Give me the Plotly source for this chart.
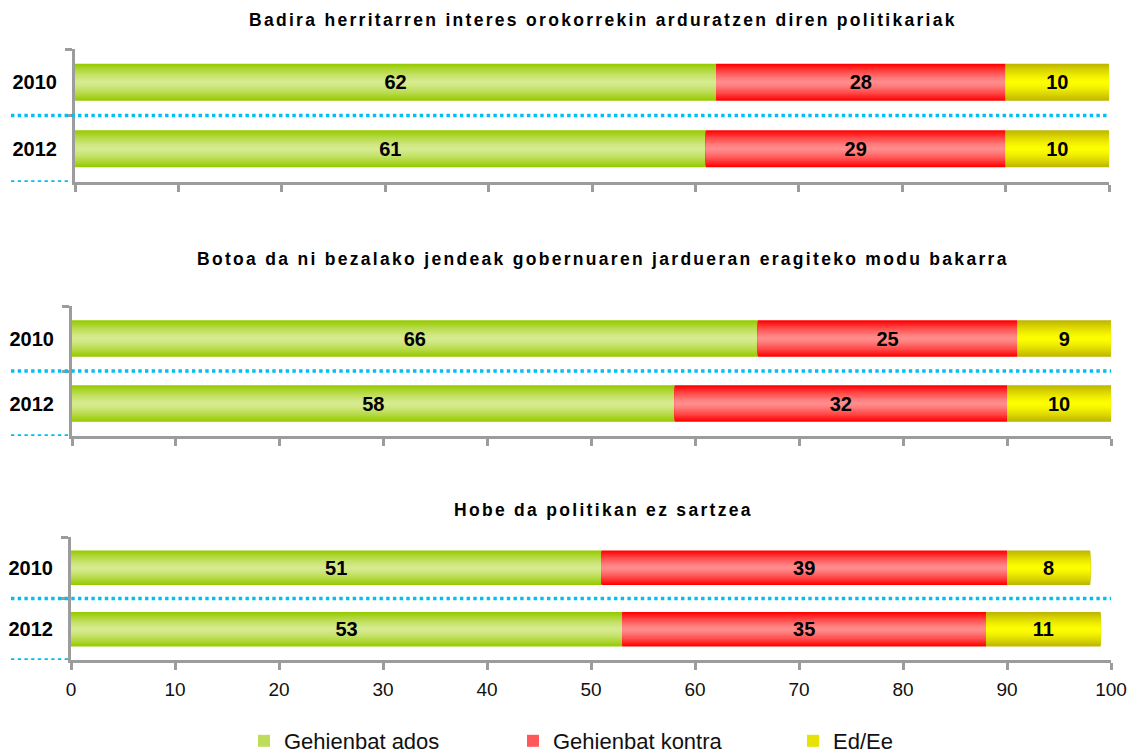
import plotly.graph_objects as go

# ---- data -------------------------------------------------------------
years = ["2010", "2012"]
titles = [
    "Badira herritarren interes orokorrekin arduratzen diren politikariak",
    "Botoa da ni bezalako jendeak gobernuaren jardueran eragiteko modu bakarra",
    "Hobe da politikan ez sartzea",
]
series_names = ["Gehienbat ados", "Gehienbat kontra", "Ed/Ee"]
ados = [[62, 61], [66, 58], [51, 53]]
kontra = [[28, 29], [25, 32], [39, 35]]
ed_ee = [[10, 10], [9, 10], [8, 11]]
x_ticks = list(range(0, 101, 10))

# ---- style ------------------------------------------------------------
W, H = 1137, 754
FONT = "Liberation Sans, Arial, sans-serif"
AXIS_GREY = "#9c9c9c"
DOT_BLUE = "#00bff5"

# edge colour / centre colour of each series' cylinder-like shading
shades = [
    ((150, 202, 0), (215, 235, 146)),
    ((255, 0, 0), (255, 142, 142)),
    ((190, 182, 0), (255, 255, 0)),
]
legend_ids = ["legend", "legend2", "legend3"]
legend_x = [244, 513, 793]

# panel frames in pixels: left, right, top, bottom
panels = [
    (75, 1109, 49, 182),
    (72, 1111, 306, 436),
    (71, 1111, 537, 660),
]
title_y = [20, 259, 510]
BAR_W = 0.56
N_LAYERS = 16


def mix(c0, c1, t):
    return "rgb(%d,%d,%d)" % tuple(round(a + (b - a) * t) for a, b in zip(c0, c1))


fig = go.Figure()

for p, (l, r, t, b) in enumerate(panels):
    sfx = "" if p == 0 else str(p + 1)
    xa, ya = "x" + sfx, "y" + sfx
    values = [ados[p], kontra[p], ed_ee[p]]
    starts = [[0, 0], ados[p], [a + k for a, k in zip(ados[p], kontra[p])]]

    for s in range(3):
        edge, centre = shades[s]
        for k in range(N_LAYERS):
            f = 1 - k / N_LAYERS
            col = mix(edge, centre, 1 - f ** 1.4)
            show = p == 0 and k == N_LAYERS // 2
            fig.add_trace(go.Bar(
                orientation="h", y=years, x=values[s], base=starts[s],
                width=BAR_W * f, marker=dict(color=col, line=dict(width=0)),
                name=series_names[s], legendgroup=series_names[s],
                legend=legend_ids[s], showlegend=show,
                xaxis=xa, yaxis=ya, hoverinfo="skip",
            ))
        # value labels
        fig.add_trace(go.Bar(
            orientation="h", y=years, x=values[s], base=starts[s],
            width=BAR_W, marker=dict(color="rgba(0,0,0,0)", line=dict(width=0)),
            text=[str(v) for v in values[s]], textposition="inside",
            insidetextanchor="middle", constraintext="none",
            textfont=dict(family=FONT, size=20, color="black", weight="bold"),
            showlegend=False, xaxis=xa, yaxis=ya, hoverinfo="skip",
        ))

    last = p == len(panels) - 1
    fig.layout["xaxis" + sfx] = dict(
        domain=[l / W, r / W], anchor=ya, range=[0, 100],
        tickvals=x_ticks, showticklabels=last,
        ticks="outside", ticklen=7, tickwidth=3, tickcolor=AXIS_GREY,
        showline=True, linecolor=AXIS_GREY, linewidth=3,
        showgrid=False, zeroline=False, fixedrange=True, automargin=False,
        tickfont=dict(family=FONT, size=19, color="#111"),
        ticklabelstandoff=3,
    )
    fig.layout["yaxis" + sfx] = dict(
        domain=[1 - b / H, 1 - t / H], anchor=xa, type="category",
        categoryorder="array", categoryarray=years, range=[1.5, -0.5],
        tickson="boundaries", ticks="outside", ticklen=7, tickwidth=3,
        tickcolor=AXIS_GREY, showline=True, linecolor=AXIS_GREY, linewidth=3,
        showgrid=False, zeroline=False, fixedrange=True, automargin=False,
        tickfont=dict(family=FONT, size=20, color="black", weight="bold"),
        ticklabelstandoff=11,
    )

    # dotted separators between and below the year rows
    fig.add_shape(type="line", xref="paper", yref=ya, x0=11 / W, x1=r / W,
                  y0=0.5, y1=0.5,
                  line=dict(color=DOT_BLUE, width=3.5, dash="3.4px,3.3px"))
    fig.add_shape(type="line", xref="paper", yref=ya, x0=11 / W, x1=68 / W,
                  y0=1.5, y1=1.5,
                  line=dict(color=DOT_BLUE, width=3.5, dash="3.4px,3.3px"))

    fig.add_annotation(
        xref="paper", yref="paper", x=603 / W, y=1 - title_y[p] / H,
        xanchor="center", yanchor="middle", showarrow=False,
        text='<span style="letter-spacing:2.3px">%s</span>' % titles[p],
        font=dict(family=FONT, size=17.5, color="black", weight="bold"),
    )

legend_common = dict(
    orientation="h", yanchor="middle", y=1 - 741 / H, xanchor="left",
    font=dict(family=FONT, size=22, color="#111"),
    bgcolor="rgba(0,0,0,0)", borderwidth=0,
)
for lid, lx in zip(legend_ids, legend_x):
    fig.layout[lid] = dict(legend_common, x=lx / W)

fig.update_layout(
    width=W, height=H,
    margin=dict(l=0, r=0, t=0, b=0, autoexpand=False),
    paper_bgcolor="white", plot_bgcolor="white",
    barmode="overlay", showlegend=True,
)

fig.write_html("out.html")
